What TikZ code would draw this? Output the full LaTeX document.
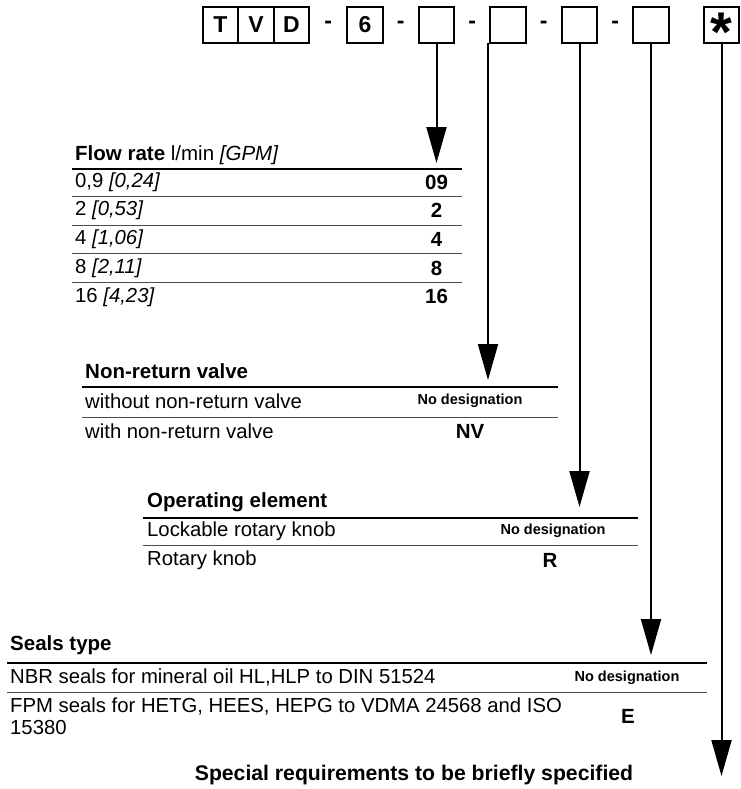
\documentclass[tikz,border=0pt]{standalone}
\usepackage{fontspec}
\setmainfont{Liberation Sans}
\usetikzlibrary{positioning, arrows.meta, calc}

\begin{document}
\begin{tikzpicture}[x=1pt, y=-1pt,
    codebox/.style={draw, line width=2.2pt, minimum width=35.5pt, minimum height=36pt, inner sep=0pt, outer sep=0pt, font=\fontsize{23}{23}\selectfont\bfseries},
    sepdash/.style={minimum width=36pt, inner sep=0pt, outer sep=0pt, font=\fontsize{23}{23}\selectfont\bfseries},
    arr/.style={-{Triangle[length=36pt, width=20pt]}, line width=2pt},
    head/.style={anchor=west, inner sep=0pt, font=\fontsize{20.5}{22}\selectfont\bfseries},
    item/.style={anchor=west, inner sep=0pt, align=left, font=\fontsize{20.3}{22}\selectfont},
    code/.style={inner sep=0pt, font=\fontsize{20.5}{22}\selectfont\bfseries},
    nodesig/.style={inner sep=0pt, font=\fontsize{14.5}{16}\selectfont\bfseries},
    thickrule/.style={line width=2.5pt},
    thinrule/.style={line width=1pt, black!70}
]
\useasboundingbox (0,0) rectangle (740,789);
% Ordering code on top
\node[codebox] (t) at (220.5,25) {T};
\node[codebox, right=0pt of t] (v) {V};
\node[codebox, right=0pt of v] (d) {D};
\node[sepdash, right=1pt of d] (s1) {-};
\node[codebox, right=1pt of s1] (six) {6};
\node[sepdash, right=0pt of six] (s2) {-};
\node[codebox, right=0pt of s2] (flow) {};
\node[sepdash, right=0pt of flow] (s3) {-};
\node[codebox, right=0pt of s3] (nrv) {};
\node[sepdash, right=0pt of nrv] (s4) {-};
\node[codebox, right=0pt of s4] (oper) {};
\node[sepdash, right=0pt of oper] (s5) {-};
\node[codebox, right=0pt of s5] (seal) {};
\node[codebox, right=35pt of seal] (star) {};
\node[inner sep=0pt, anchor=base, yshift=-27pt, font=\fontsize{56}{56}\selectfont\bfseries] (starsym) at (star.center) {*};
% Arrow tips just above each table
\coordinate (flowtip) at (flow.south |- 0,163);
\path ([xshift=-20pt]nrv.south) coordinate (nrvtop);
\coordinate (nrvtip) at (nrvtop |- 0,380);
\coordinate (opertip) at (oper.south |- 0,507);
\coordinate (sealtip) at (seal.south |- 0,655);
\coordinate (startip) at (star.south |- 0,776);
\draw[arr] (flow.south) -- (flowtip);
\draw[arr] (nrvtop) -- (nrvtip);
\draw[arr] (oper.south) -- (opertip);
\draw[arr] (seal.south) -- (sealtip);
\draw[arr] (star.south) -- (startip);
% Flow rate table
\node[head] (flowhead) at (75,155) {Flow rate {\mdseries l/min \itshape [GPM]}};
\draw[thickrule] (72,169) -- (462,169);
\foreach \val/\gpm/\num [count=\i] in {{0,9}/{0,24}/09, 2/{0,53}/2, 4/{1,06}/4, 8/{2,11}/8, 16/{4,23}/16}{
  \node[item] (flowrow\i) at (75,{182+28.7*(\i-1)}) {\val{} \itshape[\gpm]};
  \node[code] (flowcode\i) at (436.5,{182+28.7*(\i-1)}) {\num};
}
\foreach \i in {1,...,4}
  \draw[thinrule] (72,{196.5+28.7*(\i-1)}) -- (462,{196.5+28.7*(\i-1)});
% Non-return valve table
\node[head] (nrvhead) at (85,371) {Non-return valve};
\draw[thickrule] (82,387) -- (558,387);
\node[item] (nrvrow1) at (85,401) {without non-return valve};
\node[nodesig] (nrvcode1) at (470,401) {No designation};
\draw[thinrule] (82,417) -- (558,417);
\node[item] (nrvrow2) at (85,431) {with non-return valve};
\node[code] (nrvcode2) at (470,431) {NV};
% Operating element table
\node[head] (operhead) at (147,502) {Operating element};
\draw[thickrule] (143,518) -- (638,518);
\node[item] (operrow1) at (147,531) {Lockable rotary knob};
\node[nodesig] (opercode1) at (553,531) {No designation};
\draw[thinrule] (143,545) -- (638,545);
\node[item] (operrow2) at (147,560) {Rotary knob};
\node[code] (opercode2) at (550,560) {R};
% Seals type table
\node[head] (sealhead) at (10,645) {Seals type};
\draw[thickrule] (7,663) -- (707,663);
\node[item] (sealrow1) at (10,677) {NBR seals for mineral oil HL,HLP to DIN 51524};
\node[nodesig] (sealcode1) at (627,678) {No designation};
\draw[thinrule] (7,692) -- (707,692);
\node[item] (sealrow2) at (10,716) {FPM seals for HETG, HEES, HEPG to VDMA 24568 and ISO\\15380};
\node[code] (sealcode2) at (628,716) {E};
% Special requirements
\node[code, font=\fontsize{21.2}{22}\selectfont\bfseries] (special) at (414,775) {Special requirements to be briefly specified};
\end{tikzpicture}
\end{document}
